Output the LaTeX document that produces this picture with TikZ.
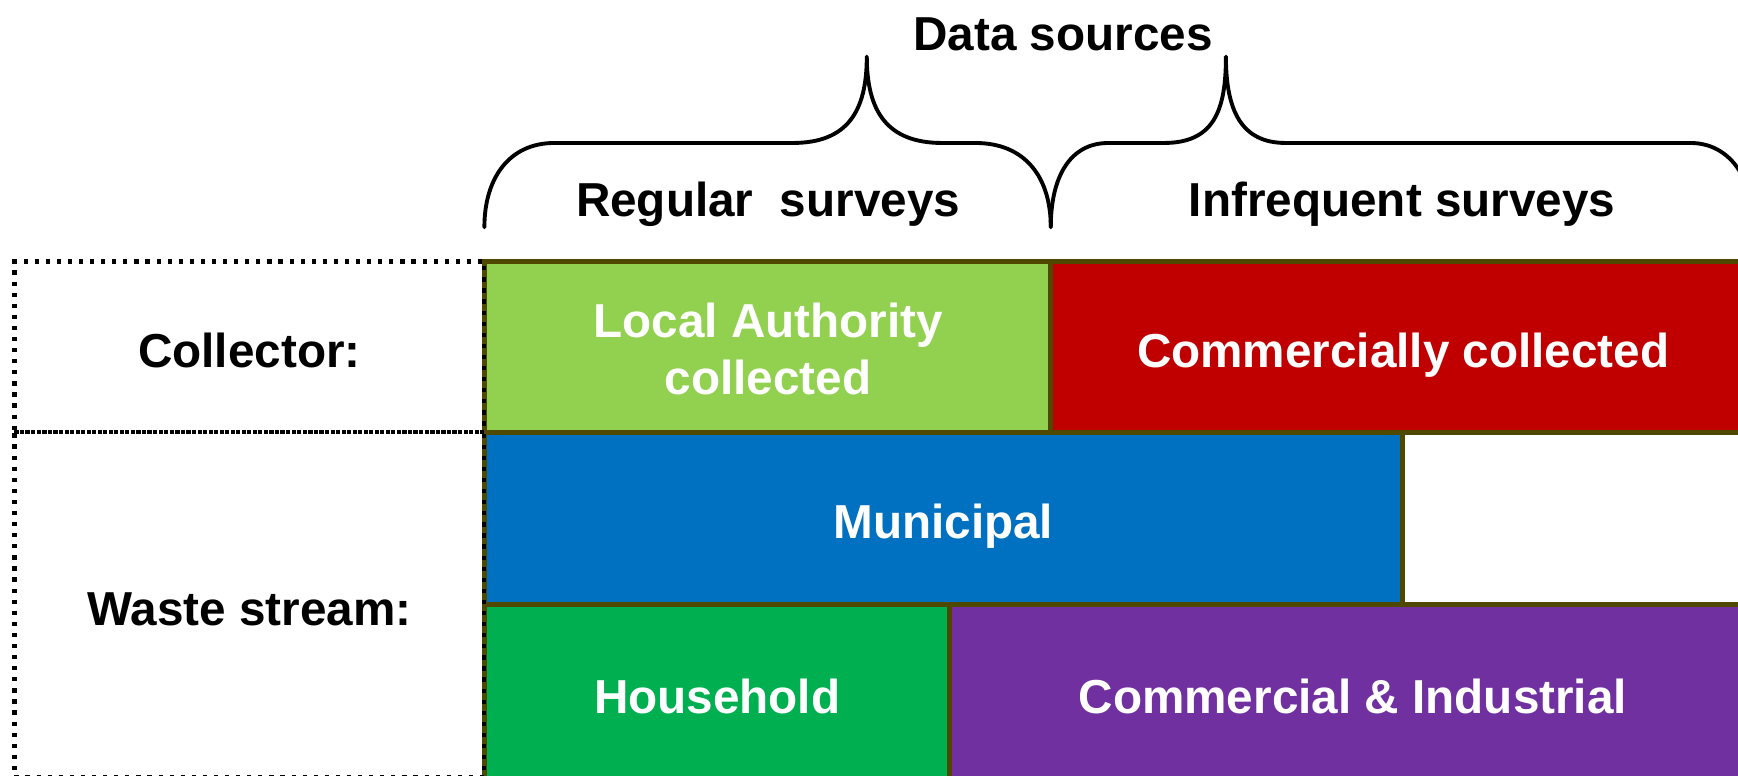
\documentclass[tikz,border=0pt]{standalone}
\usepackage{fontspec}
\setmainfont{Liberation Sans}
\definecolor{olivedark}{RGB}{79,73,0}
\definecolor{lagreen}{RGB}{146,208,80}
\definecolor{ccred}{RGB}{192,0,0}
\definecolor{munblue}{RGB}{0,112,192}
\definecolor{hhgreen}{RGB}{0,176,80}
\definecolor{cipurple}{RGB}{112,48,160}
\begin{document}
\begin{tikzpicture}[x=1pt,y=-1pt,
  txt/.style={font=\bfseries\fontsize{43}{51}\selectfont, inner sep=0pt},
  one/.style={text height=37pt, text depth=0pt},
  box/.style={txt, one, draw=olivedark, line width=4.5pt, rectangle, text=white},
  lbl/.style={txt, one, draw=black, line width=3.8pt, dash pattern=on 3.8pt off 6.2pt, rectangle, text=black},
  brace/.style={draw=black, line width=3.5pt, line join=round, line cap=round}]
\useasboundingbox (0,0) rectangle (1568,700);

% coloured boxes
\node[box, fill=lagreen, minimum width=511pt, minimum height=154pt] (la) at (692.5,313) {};
\node[txt, text=white, align=center] (latxt) at (693,315) {Local Authority\\collected};
\node[box, fill=ccred, minimum width=636pt, minimum height=154pt] (cc) at (1266,313) {Commercially collected};
\node[box, fill=munblue, minimum width=828pt, minimum height=155pt] (mun) at (851,467.5) {Municipal};
\node[box, fill=white, minimum width=319pt, minimum height=155pt] (wh) at (1424.5,467.5) {};
\node[box, fill=hhgreen, minimum width=420pt, minimum height=161pt] (hh) at (647,625.5) {Household};
\node[box, fill=cipurple, minimum width=727pt, minimum height=161pt] (ci) at (1220.5,625.5) {Commercial \& Industrial};

% dotted label boxes
\node[lbl, minimum width=424pt, minimum height=311pt] (ws) at (225,545.5) {Waste stream:};
\node[lbl, minimum width=424pt, minimum height=154pt] (coll) at (225,313) {Collector:};

% headings
\node[txt, one] (ds) at (959,27) {Data sources};
\node[txt, one] (reg) at (693,177) {Regular~ surveys};
\node[txt, one] (inf) at (1265,177) {Infrequent surveys};

% braces
\draw[brace] (437,205) .. controls (437,160) and (460,129) .. (500,129) -- (715,129)
  .. controls (765,129) and (782,100) .. (782,51)
  .. controls (782,100) and (800,129) .. (850,129) -- (880,129)
  .. controls (925,129) and (948,160) .. (948,205);
\draw[brace] (948,205) .. controls (948,160) and (965,129) .. (1000,129) -- (1050,129)
  .. controls (1095,129) and (1106,100) .. (1106,51)
  .. controls (1106,100) and (1120,129) .. (1160,129) -- (1525,129)
  .. controls (1560,129) and (1582,160) .. (1582,205);
\end{tikzpicture}
\end{document}
